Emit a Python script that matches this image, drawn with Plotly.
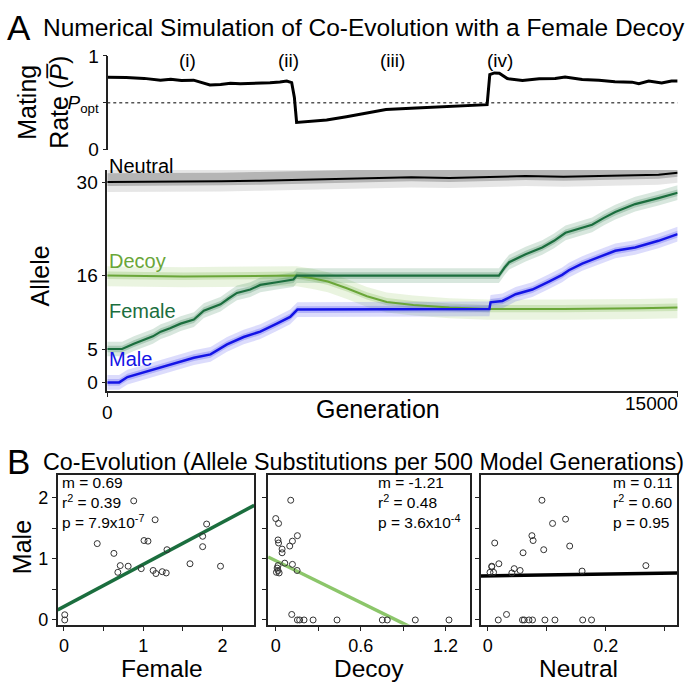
import plotly.graph_objects as go

# ---------------- DATA ----------------
# Panel A (top): mean mating rate over generations
gen_P = [0, 300, 500, 970, 1400, 1670, 1950, 2270, 2440, 2700, 2980, 3240, 3500, 3760, 4020, 4280,
         4540, 4720, 4850, 4920, 4980, 5420, 5770, 6290, 6810, 7330, 8120, 8990, 9990, 10060,
         10180, 10310, 10520, 10920, 11360, 11780, 12040, 12490, 12930, 13350, 13800, 13980,
         14240, 14580, 14840, 15000]
mating_rate = [0.772, 0.772, 0.770, 0.760, 0.741, 0.750, 0.738, 0.741, 0.720, 0.689, 0.695, 0.708,
               0.703, 0.705, 0.705, 0.714, 0.722, 0.731, 0.715, 0.560, 0.290, 0.303, 0.317, 0.351,
               0.392, 0.427, 0.445, 0.462, 0.480, 0.800, 0.818, 0.815, 0.758, 0.738, 0.755, 0.758,
               0.775, 0.748, 0.741, 0.724, 0.720, 0.703, 0.731, 0.710, 0.731, 0.731]
P_opt = 0.5
period_labels = ["(i)", "(ii)", "(iii)", "(iv)"]
period_gen = [2120, 4760, 7510, 10340]

# Panel A (bottom): mean allele values
gen_neutral = [0, 1000, 2000, 3000, 4000, 5000, 6000, 7000, 8000, 9000, 10000, 11000, 12000,
               13000, 14000, 14500, 15000]
allele_neutral = [30.0, 30.0, 30.05, 30.1, 30.2, 30.3, 30.4, 30.6, 30.7, 30.6, 30.75, 30.9, 30.8,
                  30.9, 31.0, 31.1, 31.4]

gen_decoy = [0, 1000, 2000, 3000, 4000, 4980, 5400, 5800, 6300, 6830, 7350, 8050, 9000, 10000,
             12000, 13400, 14000, 15000]
allele_decoy = [16.0, 15.9, 15.85, 15.9, 15.95, 16.0, 15.6, 15.1, 14.1, 12.9, 12.05, 11.6, 11.2,
                11.0, 11.0, 11.0, 11.1, 11.2]

gen_female = [0, 390, 700, 969, 1200, 1406, 1650, 1929, 2278, 2539, 2977, 3200, 3411, 3762, 4024,
              4459, 4896, 4982, 10300, 10450, 10569, 11003, 11440, 11750, 12051, 12750, 13050,
              13360, 13883, 14496, 15000]
allele_female = [5.0, 5.0, 5.8, 6.4, 6.9, 7.6, 8.1, 8.8, 9.4, 10.75, 11.7, 12.6, 13.4, 13.9, 14.6,
                 15.0, 15.4, 16.0, 16.0, 17.2, 18.0, 19.2, 20.2, 21.2, 22.4, 23.6, 24.6, 25.5, 26.7,
                 27.6, 28.4]

gen_male = [0, 314, 530, 969, 1406, 1840, 2278, 2715, 3150, 3587, 4024, 4459, 4810, 5000, 10050,
            10080, 10390, 10740, 11180, 11615, 11963, 12140, 12490, 12926, 13360, 13883, 14496, 15000]
allele_male = [0.0, 0.0, 0.8, 1.55, 2.3, 3.0, 3.7, 4.2, 5.7, 6.8, 7.6, 8.8, 9.8, 10.9, 11.0,
               12.0, 12.2, 13.2, 13.9, 15.1, 16.1, 16.8, 17.8, 18.75, 19.7, 20.2, 21.2, 22.2]

allele_ticks = [0, 5, 16, 30]
gen_max = 15000

# Panel B: substitutions per 500 generations
female_x = [0.01, 0.01, 0.42, 0.63, 0.68, 0.71, 0.81, 0.88, 0.975, 1.01, 1.06, 1.125, 1.15, 1.16,
            1.24, 1.29, 1.30, 1.59, 1.75, 1.75, 1.80, 1.975]
female_male_y = [0.085, 0.0, 1.25, 1.09, 0.78, 0.89, 0.88, 1.95, 0.84, 1.30, 1.29, 0.81, 1.64, 0.76,
                 0.79, 0.77, 1.15, 0.92, 1.37, 1.20, 1.57, 0.88]

decoy_x = [0.106, 0.0, 0.02, 0.016, 0.02, 0.045, 0.045, 0.153, 0.118, 0.099, 0.016, 0.01, 0.016,
           0.005, 0.024, 0.064, 0.118, 0.151, 0.113, 0.153, 0.169, 0.20, 0.264, 0.433, 0.753,
           0.788, 0.986, 1.224]
decoy_male_y = [1.96, 1.66, 1.58, 1.31, 1.26, 1.16, 1.10, 1.38, 1.29, 1.21, 0.89, 0.85, 0.81, 0.78,
                0.77, 0.93, 0.91, 0.81, 0.09, 0.0, 0.0, 0.0, 0.0, 0.0, 0.0, 0.0, 0.0, 0.0]

neutral_x = [0.092, 0.110, 0.132, 0.075, 0.077, 0.012, 0.095, 0.139, 0.060, 0.019, 0.007, 0.007,
             0.045, 0.055, 0.004, 0.010, 0.041, 0.160, 0.268, 0.032, 0.018, 0.059, 0.062, 0.070,
             0.076, 0.097, 0.114, 0.161, 0.176]
neutral_male_y = [1.96, 1.58, 1.65, 1.38, 1.30, 1.26, 1.15, 1.21, 1.10, 0.92, 0.88, 0.87, 0.84,
                  0.81, 0.78, 0.78, 0.77, 0.80, 0.89, 0.09, 0.0, 0.0, 0.0, 0.0, 0.0, 0.0, 0.0, 0.0, 0.0]

# regression fits (slope, intercept) as drawn
fit_female = (0.69, 0.22)
fit_decoy = (-1.14, 0.97)
fit_neutral = (0.15, 0.722)

stats_female = ["m = 0.69", "r<sup>2</sup> = 0.39", "p = 7.9x10<sup>-7</sup>"]
stats_decoy = ["m = -1.21", "r<sup>2</sup> = 0.48", "p = 3.6x10<sup>-4</sup>"]
stats_neutral = ["m = 0.11", "r<sup>2</sup> = 0.60", "p = 0.95"]

bx_major = [[0, 1, 2], [0, 0.6, 1.2], [0, 0.2]]
bx_minor = [[0.5, 1.5], [0.3, 0.9], [0.1, 0.3]]
by_major = [0, 1, 2]
by_minor = [0.5, 1.5]

# ---------------- STYLE ----------------
W = H = 695
FONT = "Arial, Liberation Sans, sans-serif"
C_MALE = "#1414e6"
C_FEMALE = "#1b6e3e"
C_DECOY = "#6aa638"
C_DECOY_FIT = "#8cc66a"
AXC = "#222222"


def px(x):
    return x / W


def py(y):
    return 1 - y / H


fig = go.Figure()


def band(xs, ys, lo, hi, color, xa, ya):
    upper = [v + hi for v in ys]
    lower = [v - lo for v in ys]
    fig.add_trace(go.Scatter(x=xs, y=lower, mode="lines", line=dict(width=0), xaxis=xa, yaxis=ya,
                             hoverinfo="skip", showlegend=False))
    fig.add_trace(go.Scatter(x=xs, y=upper, mode="lines", line=dict(width=0), fill="tonexty",
                             fillcolor=color, xaxis=xa, yaxis=ya, hoverinfo="skip", showlegend=False))


# ---- top panel ----
fig.add_trace(go.Scatter(x=[0, gen_max], y=[P_opt, P_opt], mode="lines",
                         line=dict(color="#555555", width=1.5, dash="dot"), xaxis="x", yaxis="y",
                         showlegend=False))
fig.add_trace(go.Scatter(x=gen_P, y=mating_rate, mode="lines", line=dict(color="black", width=3),
                         xaxis="x", yaxis="y", showlegend=False))

# ---- allele panel ----
band(gen_neutral, allele_neutral, 1.5, 2.0, "rgba(200,200,200,0.45)", "x2", "y2")
band(gen_neutral, allele_neutral, 0.6, 1.3, "rgba(140,140,140,0.55)", "x2", "y2")
band(gen_decoy, allele_decoy, 1.6, 1.4, "rgba(150,200,100,0.20)", "x2", "y2")
band(gen_decoy, allele_decoy, 0.5, 0.6, "rgba(120,180,70,0.25)", "x2", "y2")
band(gen_female, allele_female, 1.1, 1.1, "rgba(40,120,70,0.18)", "x2", "y2")
band(gen_female, allele_female, 0.5, 0.5, "rgba(40,120,70,0.25)", "x2", "y2")
band(gen_male, allele_male, 1.1, 1.1, "rgba(60,60,240,0.18)", "x2", "y2")
band(gen_male, allele_male, 0.5, 0.5, "rgba(60,60,240,0.25)", "x2", "y2")

fig.add_trace(go.Scatter(x=gen_neutral, y=allele_neutral, mode="lines", line=dict(color="black", width=2),
                         xaxis="x2", yaxis="y2", showlegend=False))
fig.add_trace(go.Scatter(x=gen_decoy, y=allele_decoy, mode="lines", line=dict(color=C_DECOY, width=2),
                         xaxis="x2", yaxis="y2", showlegend=False))
fig.add_trace(go.Scatter(x=gen_female, y=allele_female, mode="lines", line=dict(color=C_FEMALE, width=2.2),
                         xaxis="x2", yaxis="y2", showlegend=False))
fig.add_trace(go.Scatter(x=gen_male, y=allele_male, mode="lines", line=dict(color=C_MALE, width=2.5),
                         xaxis="x2", yaxis="y2", showlegend=False))

# ---- bottom panels ----
marker = dict(symbol="circle-open", size=6, color="#333333", line=dict(width=1))
ranges_x = [[-0.08, 2.40], [-0.054, 1.37], [-0.012, 0.321]]
fits = [fit_female, fit_decoy, fit_neutral]
fit_colors = [C_FEMALE, C_DECOY_FIT, "black"]
xs_all = [female_x, decoy_x, neutral_x]
ys_all = [female_male_y, decoy_male_y, neutral_male_y]
for i in range(3):
    xa, ya = "x%d" % (i + 3), "y%d" % (i + 3)
    m, b = fits[i]
    x0, x1 = ranges_x[i]
    fig.add_trace(go.Scatter(x=[x0, x1], y=[m * x0 + b, m * x1 + b], mode="lines",
                             line=dict(color=fit_colors[i], width=3.5), xaxis=xa, yaxis=ya,
                             showlegend=False))
    fig.add_trace(go.Scatter(x=xs_all[i], y=ys_all[i], mode="markers", marker=marker,
                             xaxis=xa, yaxis=ya, showlegend=False, cliponaxis=False))

tickfont = dict(family=FONT, size=19, color="black")
axis_common = dict(showgrid=False, zeroline=False, showline=True, linecolor=AXC, linewidth=1.5,
                   ticks="outside", ticklen=4, tickwidth=1.2, tickcolor=AXC)
minor_common = dict(ticks="outside", ticklen=4, tickwidth=1.2, tickcolor=AXC, showgrid=False)

layout = dict(
    width=W, height=H, margin=dict(l=0, r=0, t=0, b=0), plot_bgcolor="white", paper_bgcolor="white",
    font=dict(family=FONT, color="black"), showlegend=False,
    xaxis=dict(domain=[px(103), px(677.5)], range=[0, gen_max], anchor="y", visible=False),
    yaxis=dict(domain=[py(144), py(47.3)], range=[0, 1], anchor="free", position=px(103),
               tickvals=[0, P_opt, 1], ticktext=["0", "<i>P</i><sub>opt</sub>", "1"],
               tickfont=tickfont, **axis_common),
    xaxis2=dict(domain=[px(103), px(677.5)], range=[0, gen_max], anchor="y2",
                tickvals=[0], ticktext=["0"], minor=dict(tickvals=[gen_max], **minor_common),
                tickfont=tickfont, **axis_common),
    yaxis2=dict(domain=[py(392.7), py(165)], range=[-1.26, 31.8], anchor="x2",
                tickvals=allele_ticks, ticktext=[str(v) for v in allele_ticks],
                tickfont=tickfont, **axis_common),
)
xdoms = [[53, 251], [265, 468], [479, 677]]
btick = dict(family=FONT, size=18, color="black")
for i in range(3):
    n = i + 3
    layout["xaxis%d" % n] = dict(domain=[px(xdoms[i][0]), px(xdoms[i][1])], range=ranges_x[i],
                                 anchor="y%d" % n, mirror=True, tickvals=bx_major[i],
                                 ticktext=[("%g" % v) for v in bx_major[i]], tickfont=btick,
                                 minor=dict(tickvals=bx_minor[i], **minor_common), **axis_common)
    layout["yaxis%d" % n] = dict(domain=[py(634), py(480)], range=[-0.08, 2.365], anchor="x%d" % n,
                                 mirror=True, tickvals=by_major, showticklabels=(i == 0), tickfont=btick,
                                 minor=dict(tickvals=by_minor, **minor_common), **axis_common)
fig.update_layout(**layout)

ann = []


def text(x, y, s, size, color="black", xanchor="center", angle=0, align="center"):
    ann.append(dict(x=px(x), y=py(y), xref="paper", yref="paper", text=s, showarrow=False,
                    font=dict(family=FONT, size=size, color=color), xanchor=xanchor,
                    yanchor="middle", textangle=angle, borderpad=0, align=align))


text(1, 18, "A", 35, xanchor="left")
text(37, 18, "Numerical Simulation of Co-Evolution with a Female Decoy", 24.5, xanchor="left")
text(1, 466, "B", 35, xanchor="left")
text(37, 466, "Co-Evolution (Allele Substitutions per 500 Model Generations)", 23.3, xanchor="left")
for lab, g in zip(period_labels, period_gen):
    text(103 + g / gen_max * 574.5, 52, lab, 19)
text(38, 95, "Mating<br>Rate (<i>P\u0305</i>)", 25, angle=-90)
text(35, 274, "Allele", 25, angle=-90)
text(376, 411, "Generation", 25)
text(679, 406, str(gen_max), 19, xanchor="right")
text(104, 161, "Neutral", 20, "black", "left")
text(104, 259, "Decoy", 20, C_DECOY, "left")
text(104, 310, "Female", 20, C_FEMALE, "left")
text(104, 360, "Male", 20, C_MALE, "left")
text(17, 554, "Male", 25, angle=-90)
text(158, 679, "Female", 24.5)
text(367, 679, "Decoy", 24.5)
text(578, 679, "Neutral", 24.5)
for sx, stats in zip([56, 375, 611], [stats_female, stats_decoy, stats_neutral]):
    text(sx, 508, "<br>".join(stats), 15.5, xanchor="left", align="left")

fig.update_layout(annotations=ann)
fig.write_html("out.html", config={"displayModeBar": False},
               post_script="document.body.style.margin='0px';document.body.style.overflow='hidden';")
